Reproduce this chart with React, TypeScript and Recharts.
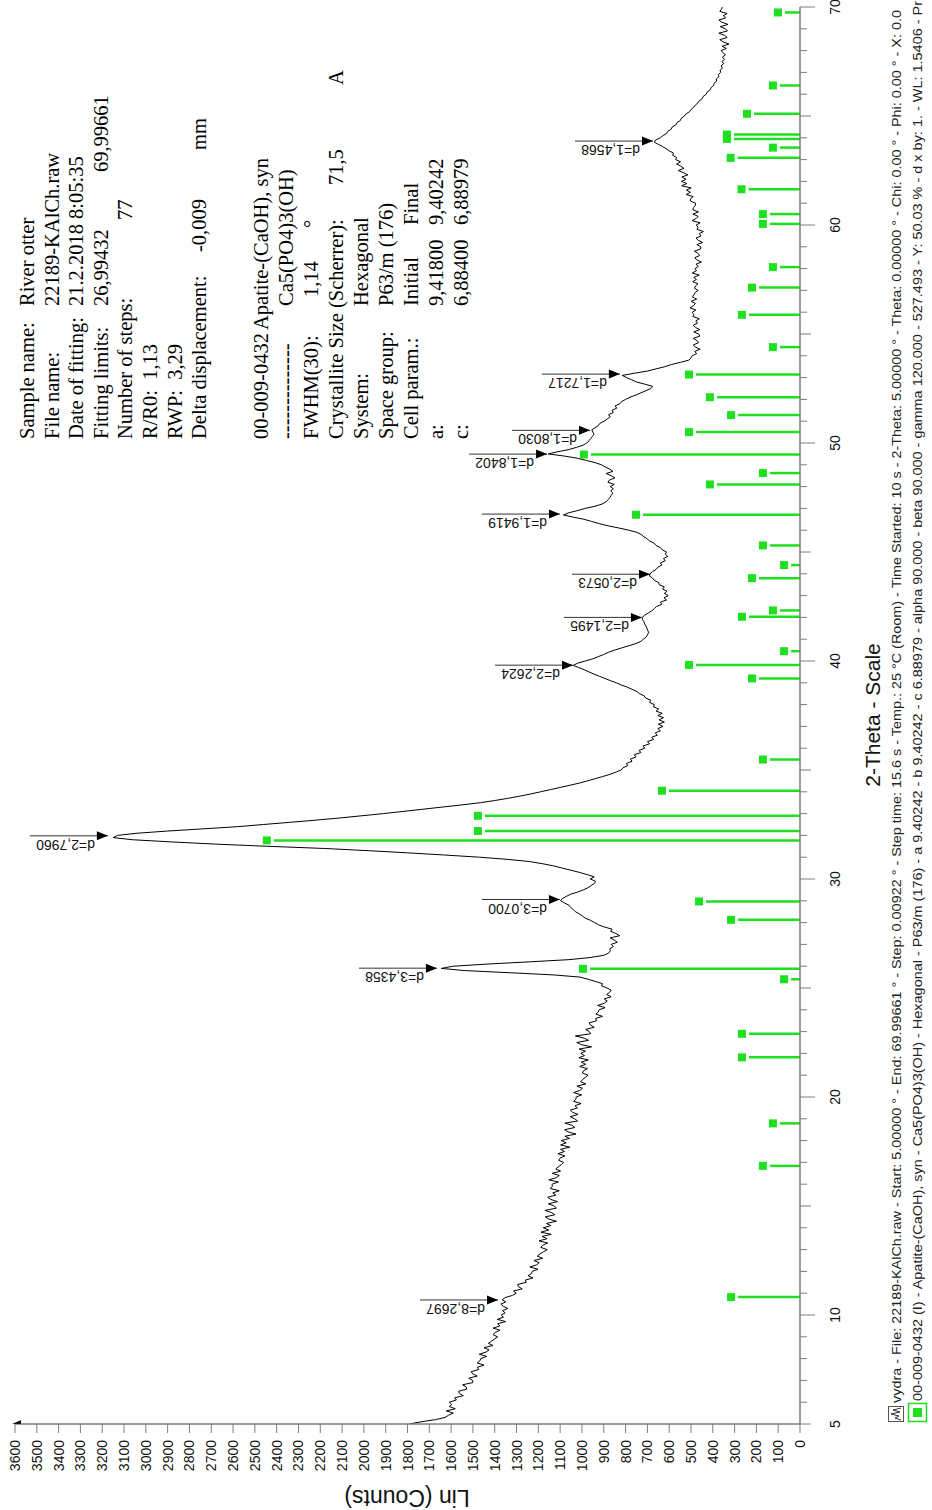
import React from 'react';
import { ComposedChart, Line, XAxis, YAxis, Scatter, ReferenceLine } from 'recharts';

// Landscape canvas; the whole plot is turned a quarter turn counter-clockwise onto the page.
const W = 1510;
const H = 932;

const SANS = '"Liberation Sans", Arial, Helvetica, sans-serif';
const SERIF = '"Liberation Serif", "Times New Roman", Times, serif';
const AXIS = '#7d7d7d';
const GREEN = '#1fe01f';

// Measured scan: 2-Theta grid start and step (deg), counts per step.
const THETA_START = 5.0;
const THETA_STEP = 0.1;
const COUNTS: number[] = [
  1792, 1738, 1672, 1628, 1612, 1590, 1622, 1581, 1608, 1597,
  1608, 1576, 1584, 1544, 1562, 1566, 1528, 1531, 1547, 1501,
  1501, 1519, 1480, 1501, 1508, 1473, 1480, 1449, 1480, 1468,
  1464, 1437, 1471, 1440, 1426, 1449, 1408, 1429, 1415, 1400,
  1387, 1408, 1398, 1376, 1407, 1376, 1387, 1350, 1388, 1360,
  1370, 1352, 1364, 1340, 1361, 1372, 1349, 1366, 1352, 1318,
  1301, 1314, 1274, 1291, 1295, 1255, 1260, 1225, 1247, 1232,
  1228, 1202, 1239, 1208, 1196, 1220, 1180, 1205, 1192, 1176,
  1159, 1189, 1180, 1157, 1197, 1160, 1183, 1141, 1188, 1152,
  1177, 1143, 1163, 1117, 1152, 1168, 1124, 1140, 1170, 1117,
  1127, 1154, 1112, 1143, 1157, 1120, 1134, 1104, 1145, 1136,
  1137, 1108, 1152, 1117, 1104, 1136, 1098, 1120, 1108, 1094,
  1084, 1107, 1099, 1078, 1110, 1080, 1098, 1056, 1098, 1072,
  1095, 1057, 1078, 1027, 1064, 1079, 1033, 1045, 1078, 1020,
  1033, 1054, 1018, 1043, 1053, 1021, 1032, 1004, 1038, 1028,
  1026, 1001, 1038, 1010, 998, 1023, 982, 1006, 997, 985,
  972, 998, 993, 975, 1010, 983, 1003, 971, 1014, 988,
  1005, 984, 1013, 956, 1002, 1024, 970, 990, 1030, 960,
  966, 983, 944, 961, 967, 932, 938, 906, 936, 925,
  921, 894, 928, 898, 884, 898, 866, 887, 873, 866,
  885, 910, 906, 938, 972, 1008, 1130, 1330, 1540, 1645,
  1590, 1430, 1240, 1060, 960, 900, 878, 870, 872, 856,
  866, 838, 852, 871, 826, 845, 868, 862, 898, 924,
  942, 960, 984, 998, 1012, 1030, 1040, 1052, 1060, 1080,
  1098, 1090, 1072, 1052, 1020, 994, 972, 958, 942, 938,
  962, 944, 975, 1010, 1050, 1090, 1130, 1180, 1240, 1340,
  1470, 1630, 1800, 1980, 2180, 2440, 2680, 2880, 3060, 3150,
  3130, 3040, 2900, 2740, 2580, 2460, 2340, 2220, 2110, 2010,
  1910, 1820, 1730, 1640, 1550, 1465, 1400, 1340, 1285, 1235,
  1190, 1145, 1100, 1055, 1012, 975, 940, 905, 872, 845,
  820, 812, 790, 796, 770, 778, 752, 760, 730, 738,
  712, 720, 690, 700, 672, 680, 654, 664, 640, 652,
  628, 650, 622, 646, 626, 652, 632, 660, 648, 672,
  668, 690, 684, 708, 714, 736, 748, 770, 792, 820,
  842, 870, 895, 920, 945, 968, 990, 1015, 1040, 1020,
  985, 950, 925, 900, 878, 850, 818, 785, 752, 730,
  718, 705, 700, 694, 698, 702, 706, 712, 716, 722,
  724, 712, 696, 680, 668, 658, 634, 640, 612, 624,
  604, 622, 610, 630, 622, 646, 648, 668, 676, 690,
  688, 676, 660, 652, 634, 640, 618, 626, 606, 618,
  612, 632, 640, 660, 668, 690, 700, 716, 728, 748,
  785, 830, 880, 920, 955, 990, 1040, 1085, 1060, 1020,
  985, 940, 908, 890, 880, 872, 866, 858, 868, 856,
  870, 852, 881, 874, 849, 866, 889, 858, 872, 893,
  910, 940, 980, 1020, 1080, 1155, 1110, 1060, 1025, 995,
  978, 968, 960, 952, 945, 950, 955, 940, 925, 918,
  898, 884, 870, 878, 856, 862, 840, 848, 826, 818,
  800, 780, 752, 730, 706, 684, 676, 712, 750, 772,
  795, 815, 760, 700, 660, 620, 590, 548, 510, 500,
  495, 474, 483, 458, 480, 489, 465, 472, 490, 460,
  464, 487, 460, 479, 490, 470, 478, 462, 491, 487,
  494, 478, 505, 488, 480, 499, 474, 493, 487, 481,
  467, 484, 480, 468, 492, 475, 487, 462, 494, 475,
  481, 466, 477, 452, 474, 482, 460, 468, 484, 456,
  455, 473, 447, 467, 477, 454, 462, 443, 472, 468,
  476, 458, 495, 476, 467, 491, 466, 492, 488, 480,
  479, 503, 502, 490, 522, 502, 521, 499, 543, 519,
  543, 523, 542, 514, 535, 558, 532, 547, 566, 548,
  570, 566, 584, 580, 600, 614, 630, 650, 668, 662,
  640, 628, 612, 606, 590, 586, 568, 564, 548, 544,
  530, 522, 506, 500, 488, 480, 468, 462, 448, 444,
  430, 426, 412, 408, 396, 394, 382, 384, 372, 374,
  364, 366, 356, 362, 350, 358, 346, 356, 342, 352,
  362, 338, 357, 326, 352, 368, 334, 346, 372, 333,
  342, 366, 330, 358, 372, 341, 352, 334, 368, 360,
  356,
];

// Reference pattern 00-009-0432 (Apatite-(CaOH), syn): stick positions and heights.
const REF_THETA = [
  10.82, 16.84, 18.79, 21.82, 22.9, 25.4, 25.88, 28.13, 28.97, 31.77,
  32.2, 32.9, 34.05, 35.48, 39.2, 39.82, 40.45, 42.03, 42.32, 43.8,
  44.4, 45.3, 46.71, 48.1, 48.62, 49.47, 50.5, 51.28, 52.1, 53.14,
  54.4, 55.88, 57.13, 58.07, 60.05, 60.5, 61.64, 63.08, 63.55, 63.95,
  64.15, 65.1, 66.4, 69.75,
];
const REF_COUNTS = [
  284, 138, 92, 234, 234, 41, 963, 284, 431, 2413,
  1445, 1445, 601, 138, 188, 477, 41, 234, 92, 188,
  41, 138, 720, 381, 138, 959, 477, 284, 381, 477,
  92, 234, 188, 92, 138, 138, 236, 286, 92, 303,
  303, 211, 92, 69,
];

// Peak search results: d-spacing label, position and arrow tip height.
const PEAK_LABELS = [
  'd=8,2697', 'd=3,4358', 'd=3,0700', 'd=2,7960', 'd=2,2624', 'd=2,1495',
  'd=2,0573', 'd=1,9419', 'd=1,8402', 'd=1,8030', 'd=1,7217', 'd=1,4568',
];
const PEAK_THETA = [10.69, 25.91, 29.06, 31.98, 39.81, 42.0, 43.98, 46.74, 49.49, 50.58, 53.16, 63.85];
const PEAK_TIP = [1385, 1665, 1101, 3174, 1041, 725, 688, 1101, 1160, 963, 826, 674];

// Axis ticks.
const THETA_TICKS = Array.from({ length: 66 }, (_, i) => 5 + i);
const THETA_LABELS = [5, 10, 20, 30, 40, 50, 60, 70];
const COUNT_TICKS = Array.from({ length: 37 }, (_, i) => i * 100);

// Info block: baseline y, then [x, text] cells.
const INFO_ROWS: [number, [number, string][]][] = [
  [34, [[1071, 'Sample name:'], [1204, 'River otter']]],
  [58.6, [[1071, 'File name:'], [1204, '22189-KAlCh.raw']]],
  [83.2, [[1071, 'Date of fitting:'], [1204, '21.2.2018 8:05:35']]],
  [107.8, [[1071, 'Fitting limits:'], [1204, '26,99432'], [1338, '69,99661']]],
  [132.4, [[1071, 'Number of steps:'], [1290, '77']]],
  [157, [[1071, 'R/R0:  1,13']]],
  [181.6, [[1071, 'RWP:  3,29']]],
  [206.2, [[1071, 'Delta displacement:'], [1258, '-0,009'], [1360, 'mm']]],
  [268, [[1071, '00-009-0432'], [1180, 'Apatite-(CaOH), syn']]],
  [293, [[1071, '--------------'], [1204, 'Ca5(PO4)3(OH)']]],
  [318, [[1071, 'FWHM(30):'], [1213, '1,14'], [1282, '°']]],
  [343, [[1071, 'Crystallite Size (Scherrer):'], [1325, '71,5'], [1425, 'A']]],
  [368, [[1071, 'System:'], [1204, 'Hexagonal']]],
  [393, [[1071, 'Space group:'], [1204, 'P63/m (176)']]],
  [418, [[1071, 'Cell param.:'], [1204, 'Initial'], [1285, 'Final']]],
  [443, [[1071, 'a:'], [1204, '9,41800'], [1285, '9,40242']]],
  [468, [[1071, 'c:'], [1204, '6,88400'], [1285, '6,88979']]],
];

const FOOTER_1 =
  'vydra - File: 22189-KAlCh.raw - Start: 5.00000 ° - End: 69.99661 ° - Step: 0.00922 ° - Step time: 15.6 s - Temp.: 25 °C (Room) - Time Started: 10 s - 2-Theta: 5.00000 ° - Theta: 0.00000 ° - Chi: 0.00 ° - Phi: 0.00 ° - X: 0.0';
const FOOTER_2 =
  '00-009-0432 (I) - Apatite-(CaOH), syn - Ca5(PO4)3(OH) - Hexagonal - P63/m (176) - a 9.40242 - b 9.40242 - c 6.88979 - alpha 90.000 - beta 90.000 - gamma 120.000 - 527.493 - Y: 50.03 % - d x by: 1. - WL: 1.5406 - Pr';

const scanData = COUNTS.map((count, i) => ({
  theta: Math.round((THETA_START + i * THETA_STEP) * 100) / 100,
  count,
}));
const refData = REF_THETA.map((theta, i) => ({ theta, count: REF_COUNTS[i] }));
const peakData = PEAK_THETA.map((theta, i) => ({ theta, count: PEAK_TIP[i], label: PEAK_LABELS[i] }));

function ThetaTick(props: any) {
  const { x, y, payload } = props;
  const v = payload.value as number;
  const labeled = THETA_LABELS.includes(v);
  const len = v % 10 === 0 ? 15 : v % 5 === 0 ? 11 : 7;
  return (
    <g>
      <line x1={x} y1={y} x2={x} y2={y + len} stroke={AXIS} strokeWidth={1} />
      {labeled && (
        <text x={x} y={y + 40} textAnchor="middle" fontFamily={SANS} fontSize={14} fill="#111">
          {v}
        </text>
      )}
    </g>
  );
}

function CountTick(props: any) {
  const { x, y, payload } = props;
  return (
    <g>
      <line x1={x} y1={y} x2={x - 9} y2={y} stroke={AXIS} strokeWidth={1} />
      <text x={x - 16} y={y + 5} textAnchor="end" fontFamily={SANS} fontSize={14} fill="#111">
        {payload.value}
      </text>
    </g>
  );
}

// Green square sitting just beyond the end of each reference stick.
function RefMarker(props: any) {
  const { cx, cy } = props;
  if (cx == null || cy == null) return <g />;
  return <rect x={cx - 4} y={cy - 11} width={8} height={8} fill={GREEN} />;
}

// Arrow pointing at a peak with its d-spacing written along the arrow shaft.
function PeakMarker(props: any) {
  const { cx, cy, payload } = props;
  if (cx == null || cy == null) return <g />;
  const tx = cx - 4;
  const ty = cy - 13;
  return (
    <g>
      <line x1={cx} y1={cy - 78} x2={cx} y2={cy} stroke="#333" strokeWidth={1} />
      <path d={`M${cx},${cy} L${cx - 4.5},${cy - 11} L${cx + 4.5},${cy - 11} Z`} fill="#000" />
      <text
        x={tx}
        y={ty}
        transform={`rotate(-90 ${tx} ${ty})`}
        textAnchor="start"
        fontFamily={SANS}
        fontSize={14}
        fill="#111"
      >
        {payload.label}
      </text>
    </g>
  );
}

function Overlay() {
  return (
    <svg
      width={W}
      height={H}
      style={{ position: 'absolute', left: 0, top: 0, pointerEvents: 'none' }}
    >
      {INFO_ROWS.map(([by, cells]) =>
        cells.map(([x, t], j) => (
          <text
            key={`${by}-${j}`}
            x={x}
            y={by}
            fontFamily={SERIF}
            fontSize={20.5}
            fill="#000"
            style={{ whiteSpace: 'pre' }}
          >
            {t}
          </text>
        ))
      )}

      {/* axis titles */}
      <text
        x={20}
        y={407}
        transform="rotate(-90 20 407)"
        textAnchor="middle"
        fontFamily={SANS}
        fontSize={23}
        fill="#111"
      >
        Lin (Counts)
      </text>
      <text x={795} y={880} textAnchor="middle" fontFamily={SANS} fontSize={21} fill="#111">
        2-Theta - Scale
      </text>

      {/* small arrow tip at the top of the count axis */}
      <path d="M86,12 L86,21 L90,21 Z" fill="#111" />

      {/* footer legend */}
      <rect x={88.5} y={888.5} width={15} height={15} fill="#fff" stroke="#555" strokeWidth={1} />
      <polyline
        points="90,901 92,895 94,899 96,891 98,900 100,893 102,901"
        fill="none"
        stroke="#333"
        strokeWidth={1}
      />
      <text x={107} y={901} fontFamily={SANS} fontSize={12.5} fill="#222" textLength={1393} lengthAdjust="spacingAndGlyphs">
        {FOOTER_1}
      </text>
      <rect x={88.5} y={908.5} width={18} height={18} fill="#fff" stroke={GREEN} strokeWidth={1.5} />
      <rect x={93} y={913} width={9} height={9} fill={GREEN} />
      <text x={109} y={922} fontFamily={SANS} fontSize={12.5} fill="#222" textLength={1400} lengthAdjust="spacingAndGlyphs">
        {FOOTER_2}
      </text>
    </svg>
  );
}

export default function App() {
  return (
    <>
      <style>{'html,body{margin:0;padding:0;overflow:hidden;background:#fff;}'}</style>
      <div
        style={{
          position: 'absolute',
          left: 0,
          top: 0,
          width: W,
          height: H,
          background: '#fff',
          transformOrigin: '0 0',
          transform: `translateY(${W}px) rotate(-90deg)`,
        }}
      >
        <ComposedChart width={W} height={H} margin={{ top: 15, right: 7, bottom: 60, left: 16 }}>
          <XAxis
            type="number"
            dataKey="theta"
            domain={[5, 70]}
            ticks={THETA_TICKS}
            interval={0}
            allowDataOverflow
            tickSize={0}
            tickMargin={0}
            tickLine={false}
            tick={<ThetaTick />}
            axisLine={{ stroke: AXIS, strokeWidth: 1.5 }}
            height={72}
          />
          <YAxis
            type="number"
            dataKey="count"
            domain={[0, 3600]}
            ticks={COUNT_TICKS}
            interval={0}
            allowDataOverflow
            tickSize={0}
            tickMargin={0}
            tickLine={false}
            tick={<CountTick />}
            axisLine={{ stroke: AXIS, strokeWidth: 1.5 }}
            width={70}
          />
          {refData.map((r) => (
            <ReferenceLine
              key={`ref-${r.theta}`}
              segment={[
                { x: r.theta, y: 0 },
                { x: r.theta, y: r.count },
              ]}
              stroke={GREEN}
              strokeWidth={2.5}
              ifOverflow="visible"
            />
          ))}
          <Scatter data={refData} dataKey="count" shape={<RefMarker />} isAnimationActive={false} />
          <Line
            data={scanData}
            dataKey="count"
            type="linear"
            stroke="#000"
            strokeWidth={1}
            dot={false}
            activeDot={false}
            isAnimationActive={false}
          />
          <Scatter data={peakData} dataKey="count" shape={<PeakMarker />} isAnimationActive={false} />
        </ComposedChart>
        <Overlay />
      </div>
    </>
  );
}
